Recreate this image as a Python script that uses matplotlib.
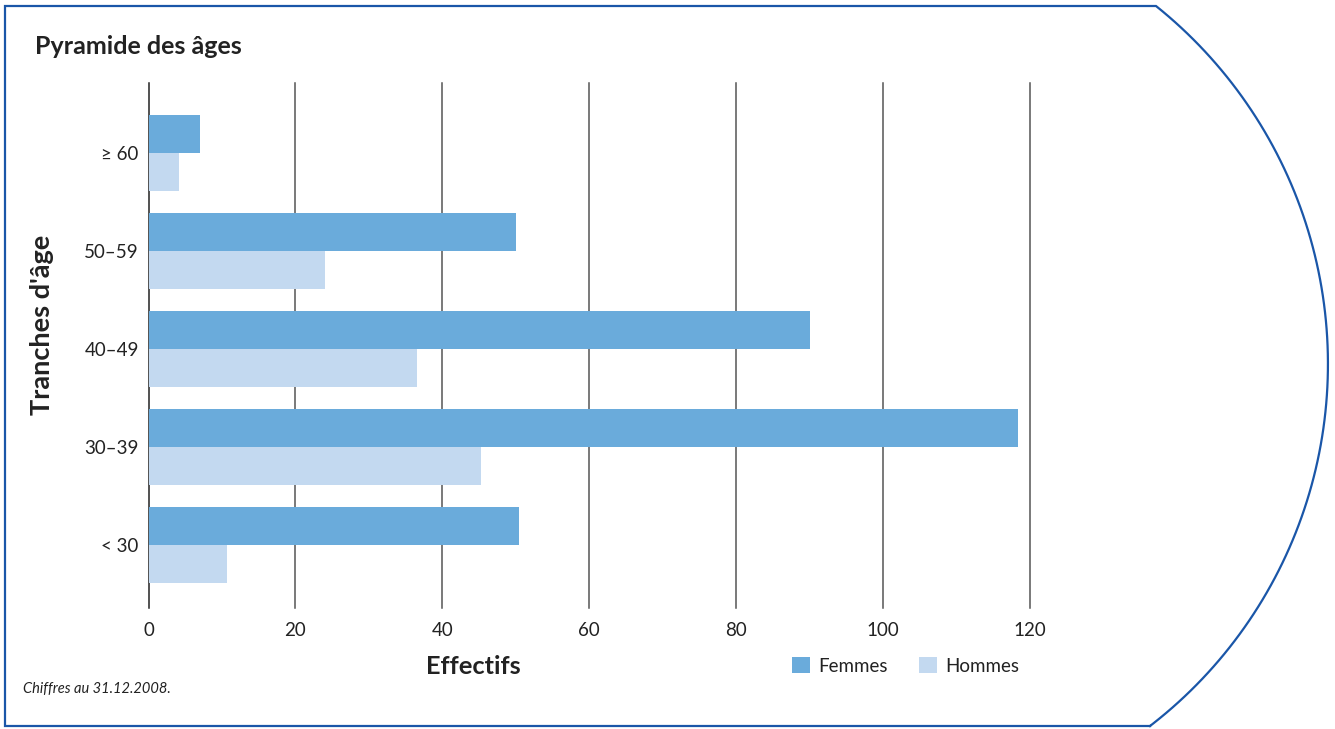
# Pyramide des âges : effectifs par tranche d'âge et par sexe
import numpy as np
import matplotlib
matplotlib.use("Agg")
import matplotlib.pyplot as plt
from matplotlib.lines import Line2D

plt.rcParams['font.family'] = ['Lato', 'DejaVu Sans']

# données
tranches = ["≥ 60", "50–59", "40–49", "30–39", "< 30"]
femmes = [7, 50, 90, 118.4, 50.5]
hommes = [4.2, 24, 36.5, 45.2, 10.7]
graduations = [0, 20, 40, 60, 80, 100, 120]

bleu_f = "#6aabdb"
bleu_h = "#c3d9f0"
bord = "#1a56a8"
texte = "#222222"

W, H = 1335, 729
fig = plt.figure(figsize=(W / 100, H / 100), dpi=100)

# axes : 0 à x=148.5 px, 120 à x=1030 px, haut 83 px, bas 608 px
ax = fig.add_axes([148.5 / W, 1 - 608 / H, (1030 - 148.5) / W, (608 - 83) / H])

pos = np.arange(len(tranches))
h = 0.388
ax.barh(pos - h / 2, femmes, height=h, color=bleu_f, label="Femmes", zorder=3)
ax.barh(pos + h / 2, hommes, height=h, color=bleu_h, label="Hommes", zorder=3)

ax.set_xlim(0, 120)
ax.set_ylim(4.643, -0.714)
ax.set_xticks(graduations)
ax.set_yticks(pos)
ax.set_yticklabels(tranches)
ax.tick_params(length=0, labelsize=13.5, colors=texte)
ax.tick_params(axis="x", pad=10)
ax.tick_params(axis="y", pad=7)
for g in graduations[1:]:
    ax.axvline(g, color="#555555", lw=1.1, zorder=1, clip_on=False)
for s in ["top", "right", "bottom"]:
    ax.spines[s].set_visible(False)
ax.spines["left"].set_color(texte)
ax.spines["left"].set_linewidth(1.1)

# textes
fig.text(35 / W, 1 - 46 / H, "Pyramide des âges", fontsize=18, fontweight="bold",
         color=texte, va="center", ha="left")
fig.text(42 / W, 1 - 325 / H, "Tranches d'âge", fontsize=19.5, fontweight="bold",
         color=texte, rotation=90, va="center", ha="center")
fig.text(473 / W, 1 - 666 / H, "Effectifs", fontsize=18.3, fontweight="bold",
         color=texte, va="center", ha="center")
fig.text(23 / W, 1 - 689 / H, "Chiffres au 31.12.2008.", fontsize=10.5, style="italic",
         color=texte, va="center", ha="left")

fig.legend(loc="center left", bbox_to_anchor=(792 / W, 1 - 666 / H), ncol=2,
           frameon=False, fontsize=13.5, handlelength=0.95, handleheight=0.95,
           handletextpad=0.45, columnspacing=1.65, borderpad=0, borderaxespad=0,
           labelcolor=texte)

# cadre bleu avec le bord droit arrondi
cx, cy = 870, 366
a0 = np.arctan2(6 - cy, 1156 - cx)
a1 = np.arctan2(726 - cy, 1150 - cx)
t = np.linspace(a0, a1, 200)
r0 = np.hypot(1156 - cx, 6 - cy)
r1 = np.hypot(1150 - cx, 726 - cy)
r = np.linspace(r0, r1, 200)
arc_x = cx + r * np.cos(t)
arc_y = cy + r * np.sin(t)
px = np.concatenate([[1150, 5, 5, 1156], arc_x])
py = np.concatenate([[726, 726, 6, 6], arc_y])
fig.add_artist(Line2D(px / W, 1 - py / H, color=bord, lw=1.6,
                      transform=fig.transFigure, solid_joinstyle="miter"))

fig.savefig("out.png", dpi=100)
